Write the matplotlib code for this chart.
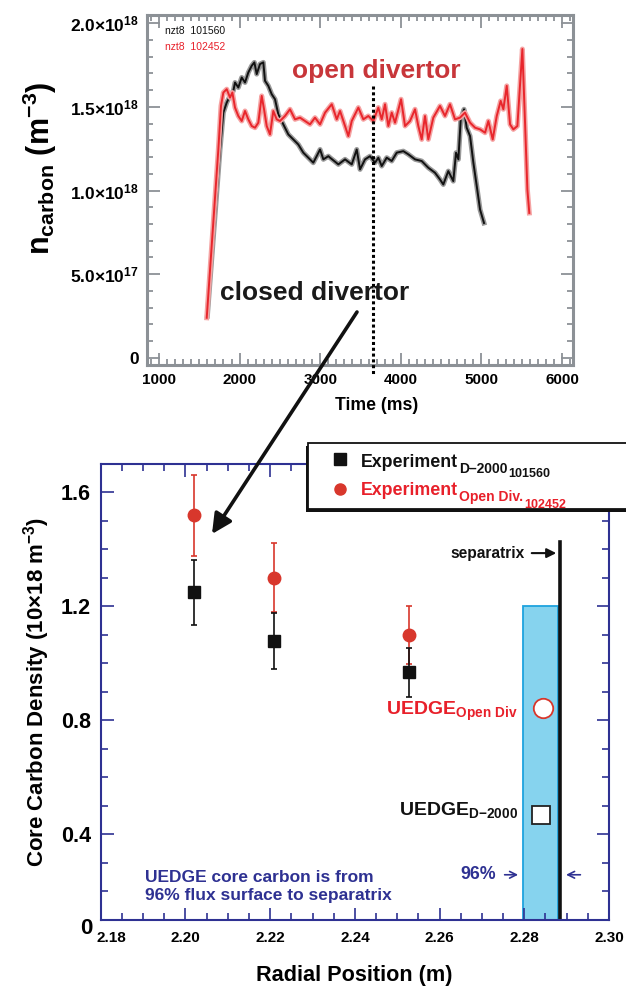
import matplotlib
matplotlib.use("Agg")
import matplotlib.pyplot as plt
import matplotlib.transforms as mtransforms
from matplotlib.patches import Rectangle, FancyArrowPatch
from matplotlib.ticker import MultipleLocator, FixedLocator

FONT = 'Liberation Sans'
plt.rcParams['font.family'] = [FONT, 'DejaVu Sans']
plt.rcParams['font.weight'] = 'bold'
plt.rcParams['mathtext.fontset'] = 'custom'
plt.rcParams['mathtext.rm'] = FONT + ':bold'
plt.rcParams['mathtext.bf'] = FONT + ':bold'
plt.rcParams['mathtext.it'] = FONT + ':bold'
plt.rcParams['mathtext.sf'] = FONT + ':bold'

# ---------------- data: top panel (time traces, units 1e18 m^-3) ----------------
t_101560 = [1600, 1757, 1798, 1840, 1881, 1922, 1943, 1984, 2026, 2067, 2108, 2150, 2183,
            2212, 2253, 2294, 2315, 2356, 2398, 2439, 2480, 2542, 2604, 2666, 2728, 2790,
            2852, 2914, 2956, 2998, 3039, 3101, 3122, 3225, 3308, 3391, 3453, 3494, 3556,
            3618, 3680, 3721, 3763, 3825, 3887, 3949, 4031, 4093, 4176, 4259, 4341, 4424,
            4486, 4527, 4589, 4651, 4685, 4714, 4743, 4784, 4817, 4859, 4900, 4942, 4983, 5032]
n_101560 = [0.25, 1.245, 1.465, 1.525, 1.565, 1.595, 1.645, 1.615, 1.675, 1.645, 1.705, 1.745, 1.765,
            1.695, 1.755, 1.765, 1.655, 1.625, 1.575, 1.545, 1.455, 1.395, 1.335, 1.305, 1.275, 1.226,
            1.196, 1.166, 1.205, 1.245, 1.186, 1.205, 1.196, 1.156, 1.186, 1.156, 1.245, 1.126, 1.186,
            1.205, 1.166, 1.196, 1.146, 1.196, 1.176, 1.226, 1.235, 1.216, 1.186, 1.176, 1.136, 1.106,
            1.066, 1.036, 1.116, 1.056, 1.226, 1.186, 1.425, 1.485, 1.375, 1.325, 1.166, 1.026, 0.886, 0.806]

t_102452 = [1592, 1736, 1769, 1798, 1840, 1881, 1910, 1943, 1984, 2026, 2067, 2108, 2150, 2191,
            2232, 2274, 2303, 2336, 2377, 2418, 2460, 2501, 2563, 2625, 2687, 2749, 2811, 2873,
            2935, 2998, 3060, 3143, 3205, 3246, 3308, 3349, 3391, 3473, 3535, 3597, 3659, 3721,
            3763, 3804, 3845, 3887, 3928, 4003, 4052, 4114, 4176, 4217, 4259, 4300, 4341, 4403,
            4486, 4548, 4610, 4672, 4734, 4796, 4859, 4921, 4983, 5045, 5086, 5140, 5190, 5239,
            5272, 5314, 5355, 5396, 5446, 5470, 5508, 5541, 5570, 5594]
n_102452 = [0.24, 1.245, 1.505, 1.585, 1.605, 1.555, 1.585, 1.495, 1.445, 1.415, 1.475, 1.425, 1.385, 1.375,
            1.405, 1.565, 1.485, 1.385, 1.335, 1.475, 1.425, 1.415, 1.445, 1.485, 1.425, 1.435, 1.415, 1.395,
            1.435, 1.395, 1.465, 1.515, 1.425, 1.475, 1.385, 1.325, 1.415, 1.495, 1.425, 1.445, 1.415, 1.495,
            1.425, 1.515, 1.385, 1.465, 1.405, 1.545, 1.385, 1.415, 1.485, 1.385, 1.305, 1.445, 1.305, 1.435,
            1.505, 1.445, 1.515, 1.425, 1.435, 1.465, 1.405, 1.375, 1.365, 1.345, 1.415, 1.305, 1.445, 1.535,
            1.485, 1.625, 1.395, 1.365, 1.385, 1.565, 1.845, 1.405, 1.006, 0.866]

t_marker = 3650
top_xticks = [1000, 2000, 3000, 4000, 5000, 6000]
top_yticks = [0.0, 0.5, 1.0, 1.5, 2.0]
top_ylabels = ['0', r'$5.0×10^{17}$', r'$1.0×10^{18}$', r'$1.5×10^{18}$', r'$2.0×10^{18}$']

# ---------------- data: bottom panel ----------------
r_exp = [2.202, 2.221, 2.2528]
n_d2000 = [1.249, 1.079, 0.968]
err_d2000 = [0.115, 0.098, 0.087]
n_open = [1.519, 1.300, 1.099]
err_open = [0.143, 0.121, 0.101]
r_uedge = [2.2843, 2.2840]
n_uedge_open = 0.843
n_uedge_d2000 = 0.469
r_96 = 2.2796
r_sep_box = 2.2879
r_sep = 2.2884
box_top = 1.2
sep_top = 1.427
bot_xticks = [2.18, 2.20, 2.22, 2.24, 2.26, 2.28, 2.30]
bot_yticks = [0.4, 0.8, 1.2, 1.6]

NAVY = '#2e3192'
RED_TXT = '#e8202a'
RED_PT = '#d8372c'
GRAY = '#8c9196'

W, H = 626, 988
fig = plt.figure(figsize=(W / 100, H / 100), dpi=100)

def fx(px):
    return px / W

def fy(py):
    return 1 - py / H

# ================= top axes =================
ax1 = fig.add_axes([fx(147), fy(365), fx(573) - fx(147), fy(15) - fy(365)])
ax1.plot(t_101560, n_101560, color='#9a9a9a', lw=3.6, solid_joinstyle='round', zorder=2)
ax1.plot(t_101560, n_101560, color='#111111', lw=1.4, zorder=3)
ax1.plot(t_102452, n_102452, color='#f5a3a3', lw=3.6, solid_joinstyle='round', zorder=4)
ax1.plot(t_102452, n_102452, color='#e8262c', lw=1.4, zorder=5)
ax1.plot([t_marker, t_marker], [1.623, -0.10], color='black', lw=2.2,
         linestyle=(0, (1.0, 0.9)), clip_on=False, zorder=6)
ax1.set_xlim(851, 6136)
ax1.set_ylim(-0.042, 2.048)
ax1.xaxis.set_major_locator(FixedLocator(top_xticks))
ax1.xaxis.set_minor_locator(MultipleLocator(100))
ax1.yaxis.set_major_locator(FixedLocator(top_yticks))
ax1.yaxis.set_minor_locator(MultipleLocator(0.1))
ax1.set_xticklabels([str(v) for v in top_xticks], fontsize=11, fontweight='bold')
ax1.set_yticklabels(top_ylabels, fontsize=12.5)
ax1.tick_params(which='both', direction='in', top=True, right=True, color=GRAY, width=1.3)
ax1.tick_params(which='major', length=9, pad=6)
ax1.tick_params(which='minor', length=4.5)
for s in ax1.spines.values():
    s.set_color(GRAY)
    s.set_linewidth(2.2)
ax1.text(1074, 1.952, 'nzt8  101560', color='#111111', fontsize=7.5, fontweight='normal',
         ha='left', va='center')
ax1.text(1074, 1.856, 'nzt8  102452', color=RED_TXT, fontsize=7.5, fontweight='normal',
         ha='left', va='center')
ax1.text(3698, 1.713, 'open divertor', color='#c8363a', fontsize=19, fontweight='bold',
         ha='center', va='center')
ax1.text(2929, 0.389, 'closed divertor', color='#1a1a1a', fontsize=19, fontweight='bold',
         ha='center', va='center')
fig.text(fx(40), fy(168), r'$\mathsf{n_{carbon}\ (m^{-3})}$', rotation=90, fontsize=22,
         ha='center', va='center')
fig.text(fx(377), fy(405), 'Time (ms)', fontsize=12.7, fontweight='bold', ha='center', va='center')

# ================= bottom axes =================
ax2 = fig.add_axes([fx(100.8), fy(920), fx(609) - fx(100.8), fy(463.7) - fy(920)])
ax2.set_xlim(2.18, 2.30)
ax2.set_ylim(0.1, 1.7)
ax2.add_patch(Rectangle((r_96, 0.1), r_sep_box - r_96, box_top - 0.1, facecolor='#86d3ee',
                        edgecolor='#1ea3de', lw=1.3, zorder=1))
ax2.plot([r_sep, r_sep], [0.1, sep_top], color='#111111', lw=2.6, zorder=2)
ax2.errorbar(r_exp, n_open, yerr=err_open, fmt='o', color=RED_PT, ms=9, ecolor=RED_PT,
             elinewidth=1.2, capsize=2.5, capthick=1.2, zorder=3)
ax2.errorbar(r_exp, n_d2000, yerr=err_d2000, fmt='s', color='#111111', ms=9, ecolor='#111111',
             elinewidth=1.2, capsize=2.5, capthick=1.2, zorder=4)
ax2.plot([r_uedge[0]], [n_uedge_open], 'o', ms=14, mfc='white', mec=RED_PT, mew=1.3, zorder=5)
ax2.plot([r_uedge[1]], [n_uedge_d2000], 's', ms=13, mfc='white', mec='#222222', mew=1.3, zorder=5)

ax2.xaxis.set_major_locator(FixedLocator(bot_xticks))
ax2.xaxis.set_minor_locator(MultipleLocator(0.005))
ax2.yaxis.set_major_locator(FixedLocator(bot_yticks))
ax2.yaxis.set_minor_locator(MultipleLocator(0.1))
ax2.set_xticklabels(['%.2f' % v for v in bot_xticks], fontsize=11, fontweight='bold')
ax2.set_yticklabels(['%.1f' % v for v in bot_yticks], fontsize=15.5, fontweight='bold')
ax2.tick_params(which='both', direction='in', top=True, right=True, color=NAVY, width=1.2)
ax2.tick_params(which='major', length=9, pad=7)
ax2.tick_params(which='minor', length=5)
ax2.tick_params(axis='x', which='major', pad=8)
for s in ax2.spines.values():
    s.set_color(NAVY)
    s.set_linewidth(1.5)
first = ax2.get_xticklabels()[0]
first.set_transform(first.get_transform() +
                    mtransforms.ScaledTranslation(11 / 100, 0, fig.dpi_scale_trans))
ax2.text(-0.016, -0.018, '0', transform=ax2.transAxes, ha='right', va='center', fontsize=16,
         fontweight='bold')

ax2.text(2.2802, 1.3865, 'separatrix', fontsize=11.2, fontweight='bold', color='#111111',
         ha='right', va='center')
ax2.annotate('', xy=(2.2882, 1.3865), xytext=(2.2811, 1.3865),
             arrowprops=dict(arrowstyle='-|>', color='#111111', lw=1.5, mutation_scale=14))
ax2.text(2.2733, 0.2586, '96%', fontsize=12.8, fontweight='bold', color=NAVY, ha='right', va='center')
ax2.annotate('', xy=(2.2792, 0.2586), xytext=(2.2747, 0.2586),
             arrowprops=dict(arrowstyle='->', color=NAVY, lw=1.2, mutation_scale=12))
ax2.annotate('', xy=(2.2892, 0.2586), xytext=(2.2939, 0.2586),
             arrowprops=dict(arrowstyle='->', color=NAVY, lw=1.2, mutation_scale=12))
ax2.text(2.1905, 0.2175, 'UEDGE core carbon is from\n96% flux surface to separatrix', fontsize=12.5,
         fontweight='bold', color=NAVY, ha='left', va='center', linespacing=1.22)
ax2.text(2.2785, 0.8196, r'$\mathbf{UEDGE}_{\mathbf{Open\ Div}}$', fontsize=14, color=RED_TXT,
         ha='right', va='baseline')
ax2.text(2.2785, 0.469, r'$\mathbf{UEDGE}_{\mathbf{D{-}2000}}$', fontsize=14, color='#111111',
         ha='right', va='baseline')

fig.text(fx(354), fy(975), 'Radial Position (m)', fontsize=15.6, fontweight='bold',
         ha='center', va='center')
fig.text(fx(37), fy(692), r'Core Carbon Density (10×18 m$^{-3}$)', rotation=90, fontsize=16,
         fontweight='bold', ha='center', va='center')

# ================= legend box (figure level) =================
fig.patches.append(Rectangle((fx(306), fy(512)), fx(340), fy(0) - fy(66), transform=fig.transFigure,
                             facecolor='#111111', edgecolor='none', zorder=8))
fig.patches.append(Rectangle((fx(308), fy(509)), fx(340), fy(0) - fy(66), transform=fig.transFigure,
                             facecolor='white', edgecolor='#111111', lw=1.3, zorder=9))
leg = fig.add_axes([0, 0, 1, 1], facecolor='none')
leg.set_xlim(0, W)
leg.set_ylim(H, 0)
leg.axis('off')
leg.set_zorder(10)
leg.plot([340], [459], 's', color='#111111', ms=8)
leg.plot([340], [489], 'o', color=RED_PT, ms=8)

def sub_chain(x, y, parts, color):
    """parts: list of (text, fontsize, dy_points) - each placed after the previous one."""
    prev = leg.text(x, y, parts[0][0], fontsize=parts[0][1], color=color, ha='left',
                    va='baseline', fontweight='bold')
    for txt, fs, dy in parts[1:]:
        prev = leg.annotate(txt, xy=(1, 0), xycoords=prev, xytext=(0.6, dy),
                            textcoords='offset points', fontsize=fs, color=color,
                            ha='left', va='bottom', fontweight='bold')

sub_chain(361, 467, [('Experiment', 12.8, 0), ('D–2000', 10, -3.7), ('101560', 9, -2.7)], '#111111')
sub_chain(361, 495, [('Experiment', 12.8, 0), ('Open Div.', 10, -3.7), ('102452', 9, -4.8)], RED_TXT)

# big arrow from top panel to bottom panel
leg.add_patch(FancyArrowPatch((357, 312), (212, 534), arrowstyle='-|>', mutation_scale=30,
                              color='#111111', lw=2.6, shrinkA=0, shrinkB=0))

fig.savefig('out.png', dpi=100)
